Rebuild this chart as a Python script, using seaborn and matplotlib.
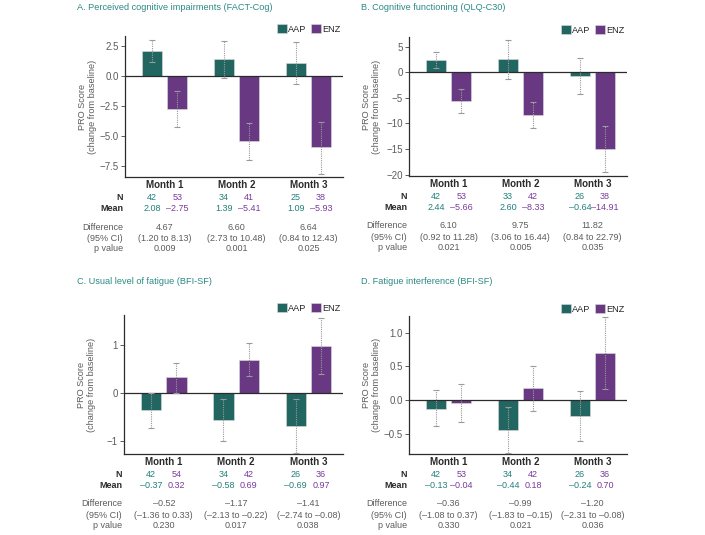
import numpy as np
import pandas as pd
import seaborn as sns
import matplotlib.pyplot as plt
from matplotlib.ticker import MultipleLocator

# ---- data ----
months = ["Month 1", "Month 2", "Month 3"]
arms = ["AAP", "ENZ"]

# A. FACT-Cog
a_title = "A. Perceived cognitive impairments (FACT-Cog)"
a_aap_mean = [2.08, 1.39, 1.09]
a_enz_mean = [-2.75, -5.41, -5.93]
a_aap_lo = [1.14, -0.19, -0.67]
a_aap_hi = [3.00, 2.89, 2.81]
a_enz_lo = [-4.28, -7.00, -8.17]
a_enz_hi = [-1.25, -3.94, -3.81]
a_aap_n = [42, 34, 25]
a_enz_n = [53, 41, 38]
a_diff = ["4.67", "6.60", "6.64"]
a_ci = ["(1.20 to 8.13)", "(2.73 to 10.48)", "(0.84 to 12.43)"]
a_p = ["0.009", "0.001", "0.025"]

# B. QLQ-C30
b_title = "B. Cognitive functioning (QLQ-C30)"
b_aap_mean = [2.44, 2.60, -0.64]
b_enz_mean = [-5.66, -8.33, -14.91]
b_aap_lo = [0.78, -1.25, -4.31]
b_aap_hi = [4.04, 6.27, 2.86]
b_enz_lo = [-8.04, -10.86, -19.50]
b_enz_hi = [-3.33, -5.82, -10.40]
b_aap_n = [42, 33, 26]
b_enz_n = [53, 42, 38]
b_diff = ["6.10", "9.75", "11.82"]
b_ci = ["(0.92 to 11.28)", "(3.06 to 16.44)", "(0.84 to 22.79)"]
b_p = ["0.021", "0.005", "0.035"]

# C. BFI-SF usual fatigue
c_title = "C. Usual level of fatigue (BFI-SF)"
c_aap_mean = [-0.37, -0.58, -0.69]
c_enz_mean = [0.32, 0.69, 0.97]
c_aap_lo = [-0.73, -1.01, -1.25]
c_aap_hi = [0.00, -0.14, -0.14]
c_enz_lo = [0.00, 0.35, 0.38]
c_enz_hi = [0.61, 1.03, 1.56]
c_aap_n = [42, 34, 26]
c_enz_n = [54, 42, 36]
c_diff = ["–0.52", "–1.17", "–1.41"]
c_ci = ["(–1.36 to 0.33)", "(–2.13 to –0.22)", "(–2.74 to –0.08)"]
c_p = ["0.230", "0.017", "0.038"]

# D. BFI-SF interference
d_title = "D. Fatigue interference (BFI-SF)"
d_aap_mean = [-0.13, -0.44, -0.24]
d_enz_mean = [-0.04, 0.18, 0.70]
d_aap_lo = [-0.39, -0.78, -0.61]
d_aap_hi = [0.15, -0.095, 0.14]
d_enz_lo = [-0.32, -0.16, 0.17]
d_enz_hi = [0.24, 0.51, 1.23]
d_aap_n = [42, 34, 26]
d_enz_n = [53, 42, 36]
d_diff = ["–0.36", "–0.99", "–1.20"]
d_ci = ["(–1.08 to 0.37)", "(–1.83 to –0.15)", "(–2.31 to –0.08)"]
d_p = ["0.330", "0.021", "0.036"]

# ---- style ----
TEAL = "#17716c"
PURPLE = "#6c2c8f"
TEAL_TXT = "#20807a"
PURPLE_TXT = "#7a3a9c"
TITLE_C = "#2b8a84"
DARK = "#2b2b2b"
GREY = "#5c5c5c"

sns.set_theme(style="white")
plt.rcParams["font.family"] = ["Liberation Sans", "DejaVu Sans"]


def fmt(v):
    return f"{v:.2f}".replace("-", "–")


def draw_panel(fig, rect, title, title_xy, mean_aap, mean_enz, lo_aap, hi_aap,
               lo_enz, hi_enz, n_aap, n_enz, diff, ci, pval, ylim, step):
    ax = fig.add_axes(rect)
    df = pd.DataFrame({
        "Month": months * 2,
        "Arm": ["AAP"] * 3 + ["ENZ"] * 3,
        "Score": list(mean_aap) + list(mean_enz),
    })
    sns.barplot(data=df, x="Month", y="Score", hue="Arm", order=months,
                hue_order=arms, palette=[TEAL, PURPLE], width=0.7, gap=0.2,
                errorbar=None, edgecolor="#dcdcdc", linewidth=0.4, ax=ax)

    # error bars from the bar centers
    lows = [lo_aap, lo_enz]
    highs = [hi_aap, hi_enz]
    bar_conts = list(ax.containers)
    centers = []
    for k, cont in enumerate(bar_conts):
        xs = [b.get_x() + b.get_width() / 2 for b in cont]
        centers.append(xs)
        ys = np.array([b.get_height() for b in cont])
        lo = np.array(lows[k])
        hi = np.array(highs[k])
        eb = ax.errorbar(xs, ys, yerr=[ys - lo, hi - ys], fmt="none",
                         ecolor="#9a9a9a", elinewidth=0.8, capsize=2,
                         capthick=0.8, zorder=4)
        eb[2][0].set_linestyle((0, (1, 1)))

    ax.axhline(0, color=DARK, lw=0.9, zorder=3)
    ax.set_ylim(*ylim)
    ax.set_xlim(-0.55, 2.48)
    ax.yaxis.set_major_locator(MultipleLocator(step))
    for s in ["top", "right"]:
        ax.spines[s].set_visible(False)
    for s in ["left", "bottom"]:
        ax.spines[s].set_color(DARK)
        ax.spines[s].set_linewidth(0.9)
    ax.tick_params(axis="y", left=True, length=3, width=0.7, color=GREY,
                   labelsize=7, labelcolor=GREY, pad=1.5)
    ax.tick_params(axis="x", bottom=False, length=0, pad=2)
    for lab in ax.get_xticklabels():
        lab.set_fontweight("bold")
        lab.set_fontsize(7)
        lab.set_color(DARK)
    ax.set_xlabel("")
    ax.set_ylabel("PRO Score\n(change from baseline)", fontsize=6.6,
                  color=GREY, linespacing=1.15)
    ax.yaxis.set_label_coords(-0.127, 0.5)

    h, l = ax.get_legend_handles_labels()
    ax.legend(h, l, loc="lower right", bbox_to_anchor=(1.0, 1.0), ncol=2,
              frameon=False, fontsize=6.6, handlelength=1.1, handleheight=1.0,
              handletextpad=0.15, columnspacing=0.5, borderpad=0,
              borderaxespad=0.25)

    # table rows under the axis
    def row_label(text, off, bold, color):
        ax.annotate(text, xy=(0, 0), xycoords="axes fraction",
                    xytext=(-1.5, -off), textcoords="offset points",
                    ha="right", va="center", fontsize=6.5, color=color,
                    fontweight="bold" if bold else "normal")

    row_label("N", 14.5, True, DARK)
    row_label("Mean", 22.5, True, DARK)
    row_label("Difference", 36, False, GREY)
    row_label("(95% CI)", 44, False, GREY)
    row_label("p value", 51.8, False, GREY)

    def cell(x, text, off, color, weight="normal"):
        ax.annotate(text, xy=(x, 0), xycoords=("data", "axes fraction"),
                    xytext=(0, -off), textcoords="offset points",
                    ha="center", va="center", fontsize=6.5, color=color,
                    fontweight=weight)

    for i in range(3):
        cell(centers[0][i], str(n_aap[i]), 14.5, TEAL_TXT, "medium")
        cell(centers[1][i], str(n_enz[i]), 14.5, PURPLE_TXT, "medium")
        cell(centers[0][i], fmt(mean_aap[i]), 22.5, TEAL_TXT, "medium")
        cell(centers[1][i], fmt(mean_enz[i]), 22.5, PURPLE_TXT, "medium")
        mid = (centers[0][i] + centers[1][i]) / 2
        cell(mid, diff[i], 36, GREY)
        cell(mid, ci[i], 44, GREY)
        cell(mid, pval[i], 51.8, GREY)

    fig.text(title_xy[0], title_xy[1], title, fontsize=6.6, color=TITLE_C,
             ha="left", va="center")
    return ax


W, H = 705, 535
fig = plt.figure(figsize=(W / 100, H / 100), dpi=100)


def rect(left, right, top, bottom):
    return [left / W, 1 - bottom / H, (right - left) / W, (bottom - top) / H]


draw_panel(fig, rect(125, 343, 36, 177), a_title, (77 / W, 1 - 7.5 / H),
           a_aap_mean, a_enz_mean, a_aap_lo, a_aap_hi, a_enz_lo, a_enz_hi,
           a_aap_n, a_enz_n, a_diff, a_ci, a_p, (-8.42, 3.33), 2.5)
draw_panel(fig, rect(409, 627, 37, 176), b_title, (361 / W, 1 - 7.5 / H),
           b_aap_mean, b_enz_mean, b_aap_lo, b_aap_hi, b_enz_lo, b_enz_hi,
           b_aap_n, b_enz_n, b_diff, b_ci, b_p, (-20.27, 6.92), 5)
draw_panel(fig, rect(124, 343, 315, 454), c_title, (77 / W, 1 - 281.5 / H),
           c_aap_mean, c_enz_mean, c_aap_lo, c_aap_hi, c_enz_lo, c_enz_hi,
           c_aap_n, c_enz_n, c_diff, c_ci, c_p, (-1.28, 1.62), 1)
draw_panel(fig, rect(409, 627, 316, 454), d_title, (361 / W, 1 - 281 / H),
           d_aap_mean, d_enz_mean, d_aap_lo, d_aap_hi, d_enz_lo, d_enz_hi,
           d_aap_n, d_enz_n, d_diff, d_ci, d_p, (-0.80, 1.25), 0.5)

fig.savefig("out.png", dpi=100)
